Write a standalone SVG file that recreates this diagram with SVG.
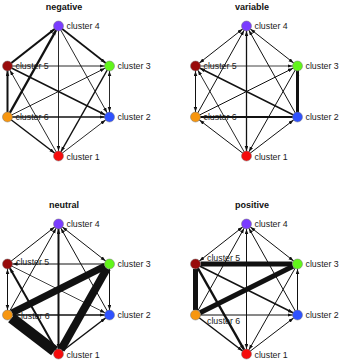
<svg xmlns="http://www.w3.org/2000/svg" width="342" height="363" viewBox="0 0 342 363">
<style>
.bg{fill:#fff}
.e{stroke:#111;fill:none;stroke-linecap:butt}
.ae{marker-end:url(#ar)}
.as{marker-start:url(#ar)}
.w08{stroke-width:0.8}.w09{stroke-width:0.9}.w1{stroke-width:1}.w13{stroke-width:1.3}.w15{stroke-width:1.5}.w16{stroke-width:1.6}.w2{stroke-width:2}.w22{stroke-width:2.2}.w24{stroke-width:2.4}.w25{stroke-width:2.5}.w3{stroke-width:3}.w5{stroke-width:5}.w7{stroke-width:7}.w8{stroke-width:8}.w11{stroke-width:11}
.n{stroke:#777;stroke-width:0.5}
.c1{fill:#f50d0d}.c2{fill:#2f52ff}.c3{fill:#62f51a}.c4{fill:#7a3cff}.c5{fill:#980b0b}.c6{fill:#f7960f}
.lb{font-family:"Liberation Sans",Arial,sans-serif;font-size:8.8px;fill:#1a1a1a}
.tt{font-family:"Liberation Sans",Arial,sans-serif;font-size:9px;font-weight:bold;fill:#111;text-anchor:middle}
</style>
<defs>
<marker id="ar" markerUnits="userSpaceOnUse" markerWidth="6" markerHeight="4" refX="10" refY="1.8" orient="auto-start-reverse">
<path d="M0,0 L5,1.8 L0,3.6 Z" fill="#111"/>
</marker>
</defs>
<rect class="bg" x="0" y="0" width="342" height="363"/>

<!-- negative -->
<g id="panel-negative">
<text class="tt" x="64" y="9.5">negative</text>
<g id="neg-edges" class="e">
<line x1="7.5" y1="66" x2="58.5" y2="26" class="w22 ae"/>
<line x1="7.5" y1="117" x2="58.5" y2="26" class="w24 ae"/>
<line x1="58.5" y1="26" x2="109.5" y2="66" class="w16 ae"/>
<line x1="58.5" y1="26" x2="109.5" y2="117" class="w09 ae"/>
<line x1="58.5" y1="26" x2="58.5" y2="156" class="w09 ae"/>
<line x1="7.5" y1="66" x2="109.5" y2="66" class="w09 ae"/>
<line x1="7.5" y1="117" x2="7.5" y2="66" class="w2 ae"/>
<line x1="7.5" y1="66" x2="109.5" y2="117" class="w15 ae"/>
<line x1="58.5" y1="156" x2="7.5" y2="66" class="w09 ae"/>
<line x1="7.5" y1="117" x2="109.5" y2="66" class="w09 ae"/>
<line x1="7.5" y1="117" x2="109.5" y2="117" class="w15 ae"/>
<line x1="7.5" y1="117" x2="58.5" y2="156" class="w15 ae"/>
<line x1="109.5" y1="66" x2="109.5" y2="117" class="w09 ae as"/>
<line x1="109.5" y1="66" x2="58.5" y2="156" class="w15 ae"/>
<line x1="58.5" y1="156" x2="109.5" y2="117" class="w09 ae"/>
</g>
<g id="neg-c4"><circle class="n c4" cx="58.5" cy="26" r="5"/><text class="lb" x="66.5" y="29">cluster 4</text></g>
<g id="neg-c5"><circle class="n c5" cx="7.5" cy="66" r="5"/><text class="lb" x="15.5" y="69">cluster 5</text></g>
<g id="neg-c3"><circle class="n c3" cx="109.5" cy="66" r="5"/><text class="lb" x="117.5" y="69">cluster 3</text></g>
<g id="neg-c6"><circle class="n c6" cx="7.5" cy="117" r="5"/><text class="lb" x="15.5" y="120">cluster 6</text></g>
<g id="neg-c2"><circle class="n c2" cx="109.5" cy="117" r="5"/><text class="lb" x="117.5" y="120">cluster 2</text></g>
<g id="neg-c1"><circle class="n c1" cx="58.5" cy="156" r="5"/><text class="lb" x="66.5" y="159.5">cluster 1</text></g>
</g>

<!-- variable -->
<g id="panel-variable" transform="translate(188,0)">
<text class="tt" x="64" y="9.5">variable</text>
<g id="var-edges" class="e">
<line x1="7.5" y1="66" x2="58.5" y2="26" class="w1 ae as"/>
<line x1="7.5" y1="117" x2="58.5" y2="26" class="w1 ae"/>
<line x1="58.5" y1="26" x2="109.5" y2="66" class="w1 ae as"/>
<line x1="109.5" y1="117" x2="58.5" y2="26" class="w1 ae"/>
<line x1="58.5" y1="26" x2="58.5" y2="156" class="w13 ae as"/>
<line x1="7.5" y1="66" x2="109.5" y2="66" class="w08 ae"/>
<line x1="7.5" y1="117" x2="7.5" y2="66" class="w1 ae as"/>
<line x1="109.5" y1="117" x2="7.5" y2="66" class="w15 ae"/>
<line x1="58.5" y1="156" x2="7.5" y2="66" class="w09 ae"/>
<line x1="7.5" y1="117" x2="109.5" y2="66" class="w1 ae"/>
<line x1="109.5" y1="117" x2="7.5" y2="117" class="w2 ae"/>
<line x1="58.5" y1="156" x2="7.5" y2="117" class="w1 ae"/>
<line x1="109.5" y1="117" x2="109.5" y2="66" class="w3 ae"/>
<line x1="109.5" y1="66" x2="58.5" y2="156" class="w1 ae"/>
<line x1="58.5" y1="156" x2="109.5" y2="117" class="w1 ae"/>
</g>
<g id="var-c4"><circle class="n c4" cx="58.5" cy="26" r="5"/><text class="lb" x="66.5" y="29">cluster 4</text></g>
<g id="var-c5"><circle class="n c5" cx="7.5" cy="66" r="5"/><text class="lb" x="15.5" y="69">cluster 5</text></g>
<g id="var-c3"><circle class="n c3" cx="109.5" cy="66" r="5"/><text class="lb" x="117.5" y="69">cluster 3</text></g>
<g id="var-c6"><circle class="n c6" cx="7.5" cy="117" r="5"/><text class="lb" x="15.5" y="120">cluster 6</text></g>
<g id="var-c2"><circle class="n c2" cx="109.5" cy="117" r="5"/><text class="lb" x="117.5" y="120">cluster 2</text></g>
<g id="var-c1"><circle class="n c1" cx="58.5" cy="156" r="5"/><text class="lb" x="66.5" y="159.5">cluster 1</text></g>
</g>

<!-- neutral -->
<g id="panel-neutral" transform="translate(0,198)">
<text class="tt" x="64" y="9.5">neutral</text>
<g id="neu-edges" class="e">
<line x1="7.5" y1="66" x2="58.5" y2="26" class="w1 ae"/>
<line x1="7.5" y1="117" x2="58.5" y2="26" class="w1 ae"/>
<line x1="58.5" y1="26" x2="109.5" y2="66" class="w1 ae as"/>
<line x1="109.5" y1="117" x2="58.5" y2="26" class="w1 ae"/>
<line x1="58.5" y1="26" x2="58.5" y2="156" class="w2 ae as"/>
<line x1="109.5" y1="66" x2="7.5" y2="66" class="w1 ae"/>
<line x1="7.5" y1="66" x2="7.5" y2="117" class="w1 ae as"/>
<line x1="7.5" y1="66" x2="109.5" y2="117" class="w08 ae"/>
<line x1="58.5" y1="156" x2="7.5" y2="66" class="w2 ae"/>
<line x1="7.5" y1="117" x2="109.5" y2="117" class="w15 ae"/>
<line x1="109.5" y1="66" x2="109.5" y2="117" class="w1 ae"/>
<line x1="58.5" y1="156" x2="109.5" y2="117" class="w15 ae"/>
<line x1="105" y1="68.2" x2="12" y2="114.8" class="w7"/>
<line x1="107" y1="70.4" x2="61" y2="151.6" class="w8"/>
<line x1="11.5" y1="120" x2="54.5" y2="153" class="w11"/>
</g>
<g id="neu-c4"><circle class="n c4" cx="58.5" cy="26" r="5"/><text class="lb" x="66.5" y="29">cluster 4</text></g>
<g id="neu-c5"><circle class="n c5" cx="7.5" cy="66" r="5"/><text class="lb" x="16" y="66.5">cluster 5</text></g>
<g id="neu-c3"><circle class="n c3" cx="109.5" cy="66" r="5"/><text class="lb" x="117.5" y="68.5">cluster 3</text></g>
<g id="neu-c6"><circle class="n c6" cx="7.5" cy="117" r="5"/><text class="lb" x="16.5" y="120.5">cluster 6</text></g>
<g id="neu-c2"><circle class="n c2" cx="109.5" cy="117" r="5"/><text class="lb" x="117.5" y="119.5">cluster 2</text></g>
<g id="neu-c1"><circle class="n c1" cx="58.5" cy="156" r="5"/><text class="lb" x="66.5" y="159.5">cluster 1</text></g>
</g>

<!-- positive -->
<g id="panel-positive" transform="translate(188,198)">
<text class="tt" x="64" y="9.5">positive</text>
<g id="pos-edges" class="e">
<line x1="7.5" y1="66" x2="58.5" y2="26" class="w1 ae as"/>
<line x1="7.5" y1="117" x2="58.5" y2="26" class="w1 ae"/>
<line x1="58.5" y1="26" x2="109.5" y2="66" class="w1 ae as"/>
<line x1="109.5" y1="117" x2="58.5" y2="26" class="w1 ae"/>
<line x1="58.5" y1="26" x2="58.5" y2="156" class="w1 ae as"/>
<line x1="7.5" y1="66" x2="109.5" y2="117" class="w15 ae"/>
<line x1="7.5" y1="66" x2="58.5" y2="156" class="w25 ae"/>
<line x1="7.5" y1="117" x2="109.5" y2="117" class="w1 ae"/>
<line x1="7.5" y1="117" x2="58.5" y2="156" class="w15 ae"/>
<line x1="109.5" y1="117" x2="109.5" y2="66" class="w1 ae"/>
<line x1="109.5" y1="66" x2="58.5" y2="156" class="w1 ae"/>
<line x1="58.5" y1="156" x2="109.5" y2="117" class="w1 ae"/>
<line x1="12.5" y1="66" x2="104.5" y2="66" class="w5"/>
<line x1="7.5" y1="71" x2="7.5" y2="112" class="w5"/>
<line x1="12" y1="114.8" x2="105" y2="68.2" class="w5"/>
</g>
<g id="pos-c4"><circle class="n c4" cx="58.5" cy="26" r="5"/><text class="lb" x="66.5" y="29">cluster 4</text></g>
<g id="pos-c5"><circle class="n c5" cx="7.5" cy="66" r="5"/><text class="lb" x="19" y="63">cluster 5</text></g>
<g id="pos-c3"><circle class="n c3" cx="109.5" cy="66" r="5"/><text class="lb" x="117.5" y="68.5">cluster 3</text></g>
<g id="pos-c6"><circle class="n c6" cx="7.5" cy="117" r="5"/><text class="lb" x="19" y="126">cluster 6</text></g>
<g id="pos-c2"><circle class="n c2" cx="109.5" cy="117" r="5"/><text class="lb" x="117.5" y="119.5">cluster 2</text></g>
<g id="pos-c1"><circle class="n c1" cx="58.5" cy="156" r="5"/><text class="lb" x="66.5" y="159.5">cluster 1</text></g>
</g>
</svg>
